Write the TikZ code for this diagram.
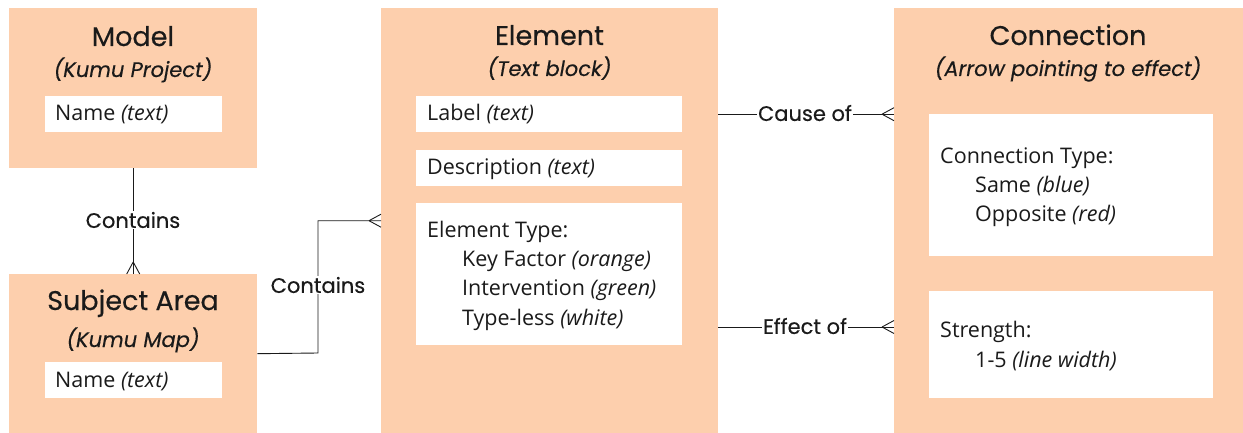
\documentclass[tikz,border=0pt]{standalone}
\usepackage{fontspec}
\setmainfont{Open Sans}
\newfontfamily\titlefont[FakeBold=0.35]{Poppins}
\definecolor{peach}{HTML}{FDCFAD}
\definecolor{ink}{HTML}{1A1A1A}
\tikzset{
  entity/.style={fill=peach, draw=none, anchor=north west, inner sep=0pt},
  field/.style={fill=white, draw=none, anchor=north west, inner sep=0pt},
  heading/.style={font=\titlefont\fontsize{27}{30}\selectfont, anchor=base, inner sep=0pt, text=ink},
  subheading/.style={font=\titlefont\itshape\fontsize{21}{26}\selectfont, anchor=base, inner sep=0pt, text=ink},
  body/.style={font=\fontsize{21.5}{29.3}\selectfont, anchor=base west, inner sep=0pt, text=ink, align=left},
  relname/.style={font=\titlefont\fontsize{21}{24}\selectfont, fill=white, inner sep=1pt, text=ink},
  link/.style={draw=ink, line width=0.9pt},
}
\begin{document}
\begin{tikzpicture}[x=1pt, y=-1pt]
\useasboundingbox (0,0) rectangle (1243,433);

% entity boxes
\node[entity, minimum width=248, minimum height=160] (model) at (9,8) {};
\node[entity, minimum width=248, minimum height=159] (subj) at (9,274) {};
\node[entity, minimum width=337, minimum height=425] (elem) at (381,8) {};
\node[entity, minimum width=349, minimum height=425] (conn) at (894,8) {};

% attribute boxes
\node[field, minimum width=177, minimum height=36] (mname) at (45,96) {};
\node[field, minimum width=177, minimum height=36] (sname) at (45,362) {};
\node[field, minimum width=266, minimum height=36] (lbl) at (416,96) {};
\node[field, minimum width=266, minimum height=36] (desc) at (416,150) {};
\node[field, minimum width=266, minimum height=142] (etype) at (416,203) {};
\node[field, minimum width=284, minimum height=142] (ctype) at (929,114) {};
\node[field, minimum width=284, minimum height=107] (str) at (929,291) {};

% headings
\node[heading] (modelT) at (133,46) {Model};
\node[subheading] (modelS) at (133,77) {(Kumu Project)};
\node[heading] (subjT) at (133,310) {Subject Area};
\node[subheading] (subjS) at (133,347) {(Kumu Map)};
\node[heading] (elemT) at (549.5,45) {Element};
\node[subheading] (elemS) at (549.5,76) {(Text block)};
\node[heading] (connT) at (1068,45) {Connection};
\node[subheading] (connS) at (1068,76) {(Arrow pointing to effect)};

% attribute texts (multi-line nodes sit on their last baseline)
\node[body] (mnameT) at (55,121) {Name \textit{(text)}};
\node[body] (snameT) at (55,387) {Name \textit{(text)}};
\node[body] (lblT) at (427,121) {Label \textit{(text)}};
\node[body] (descT) at (427,175) {Description \textit{(text)}};
\node[body] (etypeT) at (427,325) {Element Type:\\
  \hspace*{35pt}Key Factor \textit{(orange)}\\
  \hspace*{35pt}Intervention \textit{(green)}\\
  \hspace*{35pt}Type-less \textit{(white)}};
\node[body] (ctypeT) at (940,222) {Connection Type:\\
  \hspace*{35pt}Same \textit{(blue)}\\
  \hspace*{35pt}Opposite \textit{(red)}};
\node[body] (strT) at (940,367) {Strength:\\
  \hspace*{35pt}1-5 \textit{(line width)}};

% Model -- Subject Area
\draw[link] (model.south) -- (subj.north);
\draw[link] ([yshift=12pt]subj.north) -- ([xshift=-6.5pt]subj.north)
            ([yshift=12pt]subj.north) -- ([xshift=6.5pt]subj.north);
\node[relname] (rel1) at (133,220) {Contains};

% Subject Area -- Element
\coordinate (bend) at (318,353);
\draw[link] (subj.east) -- (bend) |- (elem.west);
\draw[link] ([xshift=-12pt]elem.west) -- ([yshift=6.5pt]elem.west)
            ([xshift=-12pt]elem.west) -- ([yshift=-6.5pt]elem.west);
\node[relname] (rel2) at (318,285) {Contains};

% Element -- Connection
\coordinate (causeL) at (elem.east |- lbl.center);
\coordinate (causeR) at (conn.west |- lbl.center);
\coordinate (effY) at (0,327);
\coordinate (effL) at (elem.east |- effY);
\coordinate (effR) at (conn.west |- effY);
\draw[link] (causeL) -- (causeR);
\draw[link] ([xshift=-12pt]causeR) -- ([yshift=6.5pt]causeR)
            ([xshift=-12pt]causeR) -- ([yshift=-6.5pt]causeR);
\draw[link] (effL) -- (effR);
\draw[link] ([xshift=-12pt]effR) -- ([yshift=6.5pt]effR)
            ([xshift=-12pt]effR) -- ([yshift=-6.5pt]effR);
\node[relname] (rel3) at (805,113) {Cause of};
\node[relname] (rel4) at (805,326) {Effect of};
\end{tikzpicture}
\end{document}
